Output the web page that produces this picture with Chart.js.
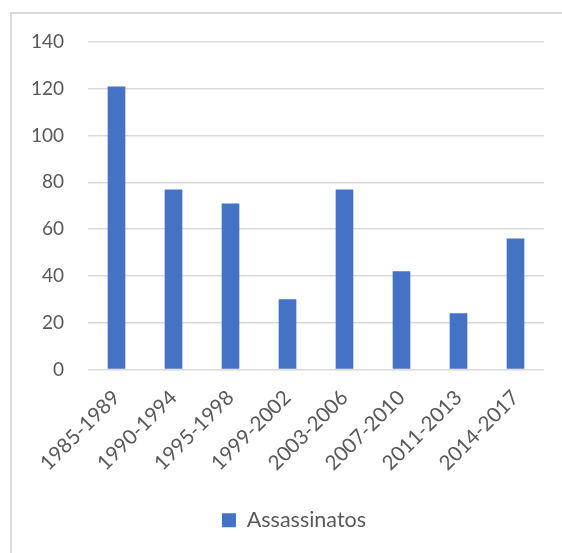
<!DOCTYPE html>
<html>
<head>
<meta charset="utf-8">
<script src="https://cdn.jsdelivr.net/npm/chart.js@4"></script>
<style>
  html, body { margin: 0; padding: 0; background: #fff; }
  #wrap { position: relative; width: 562px; height: 553px; overflow: hidden; }
  #frame { position: absolute; left: 10px; top: 12px; width: 600px; height: 600px;
           border-left: 2px solid #d9d9d9; border-top: 2px solid #d9d9d9; }
  #chartBox { position: absolute; left: 0; top: 0; width: 562px; height: 553px; }
</style>
</head>
<body>
<div id="wrap">
  <div id="frame"></div>
  <div id="chartBox"><canvas id="myChart"></canvas></div>
</div>
<script>
const periods = ['1985-1989', '1990-1994', '1995-1998', '1999-2002', '2003-2006', '2007-2010', '2011-2013', '2014-2017'];
const assassinatos = [121, 77, 71, 30, 77, 42, 24, 56];
const seriesLabel = 'Assassinatos';

const textColor = '#595959';
const gridColor = '#d9d9d9';
const fontFamily = 'Lato, "Open Sans", sans-serif';

// nudge the legend a bit right, like the Excel original
const legendShift = {
  id: 'legendShift',
  afterLayout(chart) {
    if (chart.legend) {
      chart.legend.left += 44;
      chart.legend.adjustHitBoxes();
    }
  }
};

const ctx = document.getElementById('myChart').getContext('2d');
new Chart(ctx, {
  type: 'bar',
  data: {
    labels: periods,
    datasets: [{
      label: seriesLabel,
      data: assassinatos,
      backgroundColor: '#4472C4',
      borderWidth: 0,
      barPercentage: 0.31,
      categoryPercentage: 1.0
    }]
  },
  options: {
    responsive: true,
    maintainAspectRatio: false,
    animation: false,
    layout: { padding: { top: 42, right: 18, left: 0, bottom: 12 } },
    plugins: {
      tooltip: { enabled: false },
      legend: {
        position: 'bottom',
        labels: {
          color: textColor,
          font: { family: fontFamily, size: 21.5 },
          boxWidth: 14,
          boxHeight: 14,
          padding: 10
        }
      }
    },
    scales: {
      x: {
        grid: { display: false },
        border: { display: false },
        ticks: {
          color: textColor,
          font: { family: fontFamily, size: 20.5 },
          minRotation: 45,
          maxRotation: 45,
          padding: 8
        },
        afterFit: (scale) => { scale.height = 130; }
      },
      y: {
        min: 0,
        max: 140,
        grid: { color: gridColor, lineWidth: 1.5, drawTicks: false },
        border: { display: false },
        ticks: {
          stepSize: 20,
          color: textColor,
          font: { family: fontFamily, size: 19 },
          padding: 24
        },
        afterFit: (scale) => { scale.width = 88; }
      }
    }
  },
  plugins: [legendShift]
});
</script>
</body>
</html>
